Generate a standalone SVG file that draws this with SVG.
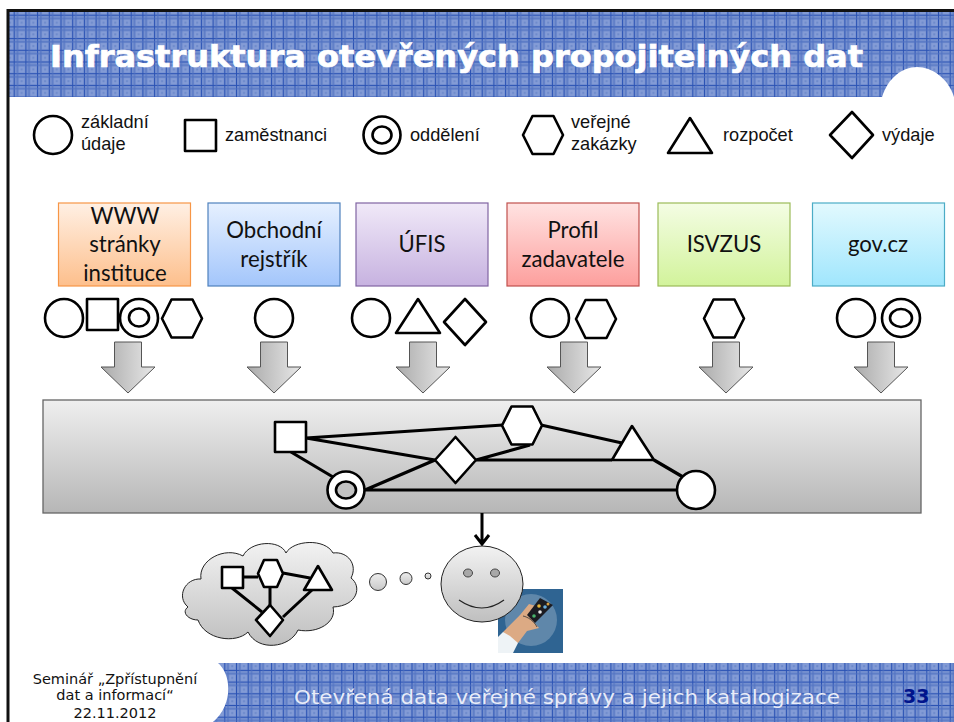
<svg xmlns="http://www.w3.org/2000/svg" width="954" height="722" viewBox="0 0 954 722">
<style>
.s{fill:#fff;stroke:#000;stroke-width:2.6;stroke-linejoin:round}
.c{fill:none;stroke:#000;stroke-width:3.2}
.l{font:18.2px "Liberation Sans",Arial,sans-serif;fill:#111}
.b{font:22.2px Lato,"Open Sans",sans-serif;fill:#111;text-anchor:middle}
.f{font-family:"DejaVu Sans",Verdana,sans-serif}
.box{stroke-width:1.2}
.g{fill:url(#gSoft);stroke:#222;stroke-width:1}
.arw{fill:url(#gArr);stroke:#555;stroke-width:1}
</style>
<defs>
<pattern id="p" width="11.7" height="11.7" patternUnits="userSpaceOnUse" x="2" y="3">
<rect width="11.7" height="11.7" fill="#7590cf"/>
<rect x="5" y="5" width="6" height="6" fill="#849cd6"/>
<rect x="7" y="7" width="2" height="2" fill="#6c89cb"/>
<rect x="0" width="1" height="11.7" fill="#2a52b4"/><rect y="0" width="11.7" height="1" fill="#2a52b4"/>
<rect x="3.300" width="1" height="11.7" fill="#4f71c2"/><rect y="3.300" width="11.7" height="1" fill="#4f71c2"/>
</pattern>
<linearGradient id="g1" x1="0" y1="0" x2="0" y2="1"><stop offset="0" stop-color="#fff0e4"/><stop offset="1" stop-color="#fdbf8c"/></linearGradient>
<linearGradient id="g2" x1="0" y1="0" x2="0" y2="1"><stop offset="0" stop-color="#e6f0ff"/><stop offset="1" stop-color="#a3c6fb"/></linearGradient>
<linearGradient id="g3" x1="0" y1="0" x2="0" y2="1"><stop offset="0" stop-color="#f0e9f8"/><stop offset="1" stop-color="#c7b2e0"/></linearGradient>
<linearGradient id="g4" x1="0" y1="0" x2="0" y2="1"><stop offset="0" stop-color="#ffe3e2"/><stop offset="1" stop-color="#fd9f9d"/></linearGradient>
<linearGradient id="g5" x1="0" y1="0" x2="0" y2="1"><stop offset="0" stop-color="#f4fde4"/><stop offset="1" stop-color="#d2f39b"/></linearGradient>
<linearGradient id="g6" x1="0" y1="0" x2="0" y2="1"><stop offset="0" stop-color="#e2f9fe"/><stop offset="1" stop-color="#a0e6fd"/></linearGradient>
<linearGradient id="gGray" x1="0" y1="0" x2="0" y2="1"><stop offset="0" stop-color="#efefef"/><stop offset="1" stop-color="#b6b6b6"/></linearGradient>
<linearGradient id="gSoft" x1="0" y1="0" x2="0" y2="1"><stop offset="0" stop-color="#f2f2f2"/><stop offset="1" stop-color="#bfbfbf"/></linearGradient>
<linearGradient id="gLight" x1="0" y1="0" x2="0" y2="1"><stop offset="0" stop-color="#eee"/><stop offset="1" stop-color="#c8c8c8"/></linearGradient>
<linearGradient id="gArr" x1="0" y1="0" x2="1" y2="0"><stop offset="0" stop-color="#aaa"/><stop offset="1" stop-color="#e8e8e8"/></linearGradient>
<polygon id="arrow" points="-13.5,-25 13.5,-25 13.5,0 27,0 0,26 -27,0 -13.5,0" class="arw"/>
<polygon id="hex" points="-10.500,-19 10.500,-19 20,0 10.500,19 -10.500,19 -20,0"/>
</defs>

<rect x="8" y="10" width="946" height="712" fill="#fff"/>
<g id="header">
<rect x="9" y="12" width="945" height="85" fill="url(#p)"/>
<path d="M882,97 C888,78 902,67 917,67 C932,67 948,78 954,97 Z" fill="#fff"/>
<path d="M8,722 V10.5 H954" fill="none" stroke="#111" stroke-width="3"/>
<text class="f" x="50" y="67" font-weight="700" font-size="30" fill="#fff" stroke="#fff" stroke-width=".7" textLength="813" lengthAdjust="spacingAndGlyphs">Infrastruktura otevřených propojitelných dat</text>
</g>

<g id="legend-zakladni"><circle class="s" cx="53" cy="135" r="19"/><text class="l" x="81" y="128">základní</text><text class="l" x="81" y="150">údaje</text></g>
<g id="legend-zamestnanci"><rect class="s" x="185" y="120" width="31" height="31"/><text class="l" x="225" y="141">zaměstnanci</text></g>
<g id="legend-oddeleni"><circle class="s" cx="382" cy="135" r="18.5"/><ellipse class="s" cx="382" cy="135" rx="9.5" ry="8.5"/><text class="l" x="410" y="141">oddělení</text></g>
<g id="legend-zakazky"><use href="#hex" x="543" y="135" class="s"/><text class="l" x="571" y="128">veřejné</text><text class="l" x="571" y="150">zakázky</text></g>
<g id="legend-rozpocet"><polygon class="s" points="690,118 712,153 668,153"/><text class="l" x="723" y="141">rozpočet</text></g>
<g id="legend-vydaje"><polygon class="s" points="852,112 873,135 852,158 830,135"/><text class="l" x="882" y="141">výdaje</text></g>

<g id="src-www"><rect class="box" x="58.500" y="203" width="132" height="83" fill="url(#g1)" stroke="#f79646"/><text class="b" x="125" y="224">WWW</text><text class="b" x="125" y="252">stránky</text><text class="b" x="125" y="281">instituce</text></g>
<g id="src-or"><rect class="box" x="208" y="203" width="132" height="83" fill="url(#g2)" stroke="#4f81bd"/><text class="b" x="274" y="238">Obchodní</text><text class="b" x="274" y="267">rejstřík</text></g>
<g id="src-ufis"><rect class="box" x="356" y="203" width="132" height="83" fill="url(#g3)" stroke="#8064a2"/><text class="b" x="422" y="252">ÚFIS</text></g>
<g id="src-profil"><rect class="box" x="507" y="203" width="132" height="83" fill="url(#g4)" stroke="#c0504d"/><text class="b" x="573" y="238">Profil</text><text class="b" x="573" y="267">zadavatele</text></g>
<g id="src-isvzus"><rect class="box" x="658" y="203" width="132" height="83" fill="url(#g5)" stroke="#9bbb59"/><text class="b" x="724" y="252">ISVZUS</text></g>
<g id="src-gov"><rect class="box" x="812.500" y="203" width="132" height="83" fill="url(#g6)" stroke="#4bacc6"/><text class="b" x="878" y="252">gov.cz</text></g>

<g id="icons-www"><circle class="s" cx="64" cy="318" r="19"/><rect class="s" x="87" y="299" width="31" height="31"/><circle class="s" cx="139" cy="318" r="19"/><ellipse class="s" cx="139" cy="317.500" rx="10" ry="9"/><use href="#hex" x="182" y="318.500" class="s"/></g>
<g id="icons-or"><circle class="s" cx="274" cy="318" r="19"/></g>
<g id="icons-ufis"><circle class="s" cx="371" cy="318" r="19"/><polygon class="s" points="418,299 440,333 396,333"/><polygon class="s" points="465,299 486,322 465,345 444,322"/></g>
<g id="icons-profil"><circle class="s" cx="550" cy="318" r="19"/><use href="#hex" x="596" y="319" class="s"/></g>
<g id="icons-isvzus"><use href="#hex" x="724" y="318.500" class="s"/></g>
<g id="icons-gov"><circle class="s" cx="856" cy="318" r="19"/><circle class="s" cx="901" cy="318" r="19"/><ellipse class="s" cx="901" cy="318" rx="11" ry="9"/></g>

<g id="arrows-down">
<use href="#arrow" x="128" y="367"/><use href="#arrow" x="274" y="367"/><use href="#arrow" x="423" y="367"/><use href="#arrow" x="574" y="367"/><use href="#arrow" x="726" y="367"/><use href="#arrow" x="881" y="367"/>
</g>

<g id="panel"><rect x="43" y="400" width="878" height="113" fill="url(#gGray)" stroke="#666" stroke-width="1.300"/></g>
<g id="connectors">
<path class="c" d="M306,438 L503,425 M306,438 L435,460 M291,452 L333,477 M365,490 L435,460 M365,490 H677 M476,460 H612 M476,460 L530,445 M541,425 L622,443 M654,460 L683,477"/>
<path fill="none" stroke="#000" stroke-width="3" d="M482,513 V544 M475,535 L482,544 L489,535"/>
</g>
<g id="g-square"><rect class="s" x="275" y="422" width="31" height="30"/></g>
<g id="g-dept"><circle class="s" cx="346" cy="490" r="18.500"/><ellipse class="s" cx="346" cy="490" rx="10" ry="8.500" style="fill:#c2c2c2"/></g>
<g id="g-diamond"><polygon class="s" points="455.500,437 476,460 455.500,483 435,460"/></g>
<g id="g-hex"><use href="#hex" x="522" y="425.500" class="s"/></g>
<g id="g-triangle"><polygon class="s" points="632,426 654,460 612,460"/></g>
<g id="g-circle"><circle class="s" cx="696" cy="490" r="19"/></g>

<g id="phone">
<rect x="498" y="589" width="65" height="64" fill="#2f6492"/>
<circle cx="531" cy="620" r="26" fill="#5f87aa"/>
<path d="M503,632 L520,615 L529,604 L536,606 L534,622 L539,628 L527,631 L518,643 L505,640 Z" fill="#dcaa84"/>
<path d="M498,637 L503,632 L510,636 L518,643 L513,653 H498 Z" fill="#eef3f6"/>
<polygon points="540,598 553,605 535,623 527,615" fill="#1c1c22"/>
<circle cx="539" cy="606" r="1.800" fill="#e8b83c"/><circle cx="545" cy="607" r="1.800" fill="#6ab0e0"/><circle cx="540" cy="612" r="1.800" fill="#e9e9e9"/><circle cx="534" cy="616" r="1.800" fill="#49b36b"/><circle cx="548" cy="604" r="1.500" fill="#d9a040"/>
<path d="M523,616 C528,617 534,621 537,627" fill="none" stroke="#333" stroke-width=".8"/>
</g>
<g id="person">
<ellipse class="g" cx="482" cy="584" rx="41" ry="38"/>
<ellipse cx="468" cy="573" rx="4.500" ry="4" fill="#a8a8a8" stroke="#444"/>
<ellipse cx="495" cy="573" rx="4.500" ry="4" fill="#a8a8a8" stroke="#444"/>
<path d="M459,600 Q482,616 504,600" fill="none" stroke="#222" stroke-width="1.200"/>
</g>
<g id="thought"><circle cx="378" cy="582" r="8.500" fill="url(#gLight)" stroke="#333"/><circle cx="406" cy="578.500" r="6" fill="url(#gLight)" stroke="#333"/><circle cx="428" cy="576" r="3" fill="url(#gLight)" stroke="#333"/></g>

<g id="cloud">
<path class="g" d="M188,607 C176,597 185,578 201,579 C198,560 225,546 243,556 C250,541 280,539 286,553 C293,540 325,538 333,553 C348,551 358,565 351,578 C362,586 358,606 333,607 C337,622 318,634 298,630 C290,648 258,652 248,632 C236,644 205,640 198,620 C188,620 181,612 188,607 Z"/>
<path fill="none" stroke="#000" stroke-width="3" d="M243,577 H258 M283,573 L310,578 M270,587 V605 M232,588 L262,612 M312,590 L283,617"/>
<rect class="s" x="222" y="567" width="21" height="21"/>
<polygon class="s" points="264,560 277,560 283,573.500 277,587 264,587 258,573.500"/>
<polygon class="s" points="318,566 332,590 304,590"/>
<polygon class="s" points="270,605 283,620 270,636 256,620"/>
</g>

<g id="footer">
<path d="M218,663 C232,675 233,705 213,722 H954 V663 Z" fill="url(#p)"/>
<text class="f" x="115" y="684" text-anchor="middle" font-size="14.500" fill="#111">Seminář „Zpřístupnění</text>
<text class="f" x="115" y="700" text-anchor="middle" font-size="14.500" fill="#111">dat a informací“</text>
<text class="f" x="115" y="718" text-anchor="middle" font-size="14.500" fill="#111">22.11.2012</text>
<text class="f" x="294" y="704" font-size="20" fill="#e8ecf8" textLength="546" lengthAdjust="spacingAndGlyphs">Otevřená data veřejné správy a jejich katalogizace</text>
<text class="f" x="903" y="703" font-weight="700" font-size="19" fill="#00148c">33</text>
</g>
</svg>
